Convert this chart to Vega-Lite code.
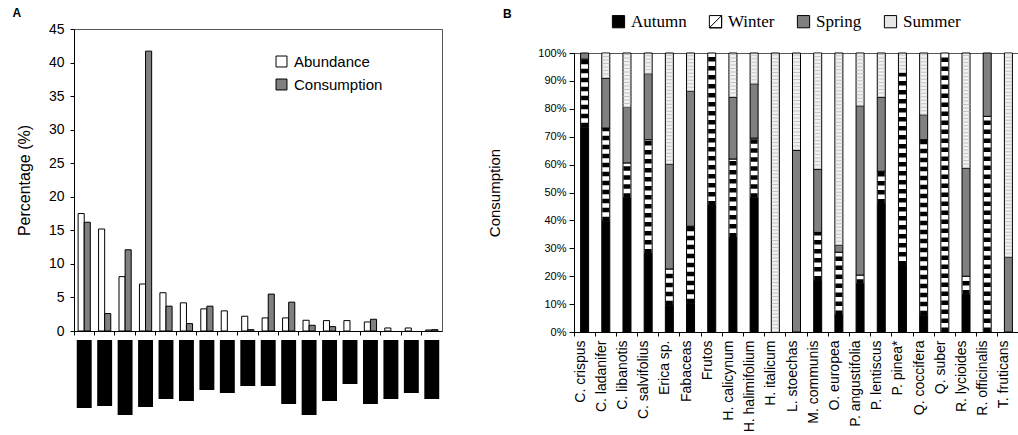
{
  "$schema": "https://vega.github.io/schema/vega-lite/v6.json",
  "background": "white",
  "padding": {"left": 11, "top": 6, "right": 0, "bottom": 0},
  "config": {
    "font": "Liberation Sans",
    "view": {"stroke": "#555555", "strokeWidth": 1},
    "axis": {"domainColor": "black", "tickColor": "black", "labelColor": "black", "titleColor": "black", "grid": false, "titleFontWeight": "normal", "domainWidth": 1, "tickWidth": 1},
    "legend": {"labelColor": "black"},
    "title": {"color": "black"}
  },
  "datasets": {
    "abund": [
      {"cat": "1", "series": "Abundance", "value": 17.5}, {"cat": "1", "series": "Consumption", "value": 16.2},
      {"cat": "2", "series": "Abundance", "value": 15.2}, {"cat": "2", "series": "Consumption", "value": 2.6},
      {"cat": "3", "series": "Abundance", "value": 8.1}, {"cat": "3", "series": "Consumption", "value": 12.1},
      {"cat": "4", "series": "Abundance", "value": 7.0}, {"cat": "4", "series": "Consumption", "value": 41.7},
      {"cat": "5", "series": "Abundance", "value": 5.7}, {"cat": "5", "series": "Consumption", "value": 3.7},
      {"cat": "6", "series": "Abundance", "value": 4.2}, {"cat": "6", "series": "Consumption", "value": 1.1},
      {"cat": "7", "series": "Abundance", "value": 3.3}, {"cat": "7", "series": "Consumption", "value": 3.7},
      {"cat": "8", "series": "Abundance", "value": 3.0},
      {"cat": "9", "series": "Abundance", "value": 2.2}, {"cat": "9", "series": "Consumption", "value": 0.2},
      {"cat": "10", "series": "Abundance", "value": 1.95}, {"cat": "10", "series": "Consumption", "value": 5.5},
      {"cat": "11", "series": "Abundance", "value": 1.95}, {"cat": "11", "series": "Consumption", "value": 4.3},
      {"cat": "12", "series": "Abundance", "value": 1.6}, {"cat": "12", "series": "Consumption", "value": 0.85},
      {"cat": "13", "series": "Abundance", "value": 1.55}, {"cat": "13", "series": "Consumption", "value": 0.65},
      {"cat": "14", "series": "Abundance", "value": 1.55},
      {"cat": "15", "series": "Abundance", "value": 1.35}, {"cat": "15", "series": "Consumption", "value": 1.75},
      {"cat": "16", "series": "Abundance", "value": 0.45},
      {"cat": "17", "series": "Abundance", "value": 0.45},
      {"cat": "18", "series": "Abundance", "value": 0.15}, {"cat": "18", "series": "Consumption", "value": 0.2}
    ],
    "redact": [
      {"cat": "1", "len": 68}, {"cat": "2", "len": 66}, {"cat": "3", "len": 75}, {"cat": "4", "len": 67},
      {"cat": "5", "len": 59}, {"cat": "6", "len": 61}, {"cat": "7", "len": 50}, {"cat": "8", "len": 53},
      {"cat": "9", "len": 46}, {"cat": "10", "len": 46}, {"cat": "11", "len": 64}, {"cat": "12", "len": 75},
      {"cat": "13", "len": 61}, {"cat": "14", "len": 44}, {"cat": "15", "len": 64}, {"cat": "16", "len": 59},
      {"cat": "17", "len": 53}, {"cat": "18", "len": 59}
    ],
    "season": [
      {"species": "C. crispus", "season": "Autumn", "ord": 1, "value": 73.4},
      {"species": "C. crispus", "season": "Winter", "ord": 2, "value": 24.4},
      {"species": "C. crispus", "season": "Spring", "ord": 3, "value": 2.2},
      {"species": "C. ladanifer", "season": "Autumn", "ord": 1, "value": 39.7},
      {"species": "C. ladanifer", "season": "Winter", "ord": 2, "value": 33.4},
      {"species": "C. ladanifer", "season": "Spring", "ord": 3, "value": 17.9},
      {"species": "C. ladanifer", "season": "Summer", "ord": 4, "value": 9.0},
      {"species": "C. libanotis", "season": "Autumn", "ord": 1, "value": 48.1},
      {"species": "C. libanotis", "season": "Winter", "ord": 2, "value": 12.5},
      {"species": "C. libanotis", "season": "Spring", "ord": 3, "value": 19.9},
      {"species": "C. libanotis", "season": "Summer", "ord": 4, "value": 19.5},
      {"species": "C. salvifolius", "season": "Autumn", "ord": 1, "value": 28.1},
      {"species": "C. salvifolius", "season": "Winter", "ord": 2, "value": 40.8},
      {"species": "C. salvifolius", "season": "Spring", "ord": 3, "value": 23.7},
      {"species": "C. salvifolius", "season": "Summer", "ord": 4, "value": 7.4},
      {"species": "Erica sp.", "season": "Autumn", "ord": 1, "value": 9.6},
      {"species": "Erica sp.", "season": "Winter", "ord": 2, "value": 13.0},
      {"species": "Erica sp.", "season": "Spring", "ord": 3, "value": 37.5},
      {"species": "Erica sp.", "season": "Summer", "ord": 4, "value": 39.9},
      {"species": "Fabaceas", "season": "Autumn", "ord": 1, "value": 10.3},
      {"species": "Fabaceas", "season": "Winter", "ord": 2, "value": 27.6},
      {"species": "Fabaceas", "season": "Spring", "ord": 3, "value": 48.4},
      {"species": "Fabaceas", "season": "Summer", "ord": 4, "value": 13.7},
      {"species": "Frutos", "season": "Autumn", "ord": 1, "value": 45.3},
      {"species": "Frutos", "season": "Winter", "ord": 2, "value": 54.7},
      {"species": "H. calicynum", "season": "Autumn", "ord": 1, "value": 33.9},
      {"species": "H. calicynum", "season": "Winter", "ord": 2, "value": 28.1},
      {"species": "H. calicynum", "season": "Spring", "ord": 3, "value": 22.2},
      {"species": "H. calicynum", "season": "Summer", "ord": 4, "value": 15.8},
      {"species": "H. halimifolium", "season": "Autumn", "ord": 1, "value": 48.1},
      {"species": "H. halimifolium", "season": "Winter", "ord": 2, "value": 21.4},
      {"species": "H. halimifolium", "season": "Spring", "ord": 3, "value": 19.5},
      {"species": "H. halimifolium", "season": "Summer", "ord": 4, "value": 11.0},
      {"species": "H. italicum", "season": "Summer", "ord": 4, "value": 100},
      {"species": "L. stoechas", "season": "Spring", "ord": 3, "value": 65.2},
      {"species": "L. stoechas", "season": "Summer", "ord": 4, "value": 34.8},
      {"species": "M. communis", "season": "Autumn", "ord": 1, "value": 18.5},
      {"species": "M. communis", "season": "Winter", "ord": 2, "value": 17.2},
      {"species": "M. communis", "season": "Spring", "ord": 3, "value": 22.7},
      {"species": "M. communis", "season": "Summer", "ord": 4, "value": 41.6},
      {"species": "O. europea", "season": "Autumn", "ord": 1, "value": 6.1},
      {"species": "O. europea", "season": "Winter", "ord": 2, "value": 22.5},
      {"species": "O. europea", "season": "Spring", "ord": 3, "value": 2.5},
      {"species": "O. europea", "season": "Summer", "ord": 4, "value": 68.9},
      {"species": "P. angustifolia", "season": "Autumn", "ord": 1, "value": 17.3},
      {"species": "P. angustifolia", "season": "Winter", "ord": 2, "value": 3.1},
      {"species": "P. angustifolia", "season": "Spring", "ord": 3, "value": 60.7},
      {"species": "P. angustifolia", "season": "Summer", "ord": 4, "value": 18.9},
      {"species": "P. lentiscus", "season": "Autumn", "ord": 1, "value": 46.1},
      {"species": "P. lentiscus", "season": "Winter", "ord": 2, "value": 11.5},
      {"species": "P. lentiscus", "season": "Spring", "ord": 3, "value": 26.6},
      {"species": "P. lentiscus", "season": "Summer", "ord": 4, "value": 15.8},
      {"species": "P. pinea*", "season": "Autumn", "ord": 1, "value": 23.8},
      {"species": "P. pinea*", "season": "Winter", "ord": 2, "value": 69.0},
      {"species": "P. pinea*", "season": "Summer", "ord": 4, "value": 7.2},
      {"species": "Q. coccifera", "season": "Autumn", "ord": 1, "value": 6.0},
      {"species": "Q. coccifera", "season": "Winter", "ord": 2, "value": 62.9},
      {"species": "Q. coccifera", "season": "Spring", "ord": 3, "value": 9.0},
      {"species": "Q. coccifera", "season": "Summer", "ord": 4, "value": 22.1},
      {"species": "Q. suber", "season": "Winter", "ord": 2, "value": 100},
      {"species": "R. lycioides", "season": "Autumn", "ord": 1, "value": 13.4},
      {"species": "R. lycioides", "season": "Winter", "ord": 2, "value": 6.6},
      {"species": "R. lycioides", "season": "Spring", "ord": 3, "value": 38.8},
      {"species": "R. lycioides", "season": "Summer", "ord": 4, "value": 41.2},
      {"species": "R. officinalis", "season": "Winter", "ord": 2, "value": 77.3},
      {"species": "R. officinalis", "season": "Spring", "ord": 3, "value": 22.7},
      {"species": "T. fruticans", "season": "Spring", "ord": 3, "value": 26.8},
      {"species": "T. fruticans", "season": "Summer", "ord": 4, "value": 73.2}
    ]
  },
  "resolve": {"scale": {"fill": "independent"}, "legend": {"fill": "independent"}},
  "concat": [
    {
      "vconcat": [
        {
          "width": 368,
          "height": 302,
          "title": {"text": "A", "anchor": "start", "fontSize": 12, "fontWeight": "bold", "offset": 2, "dx": -4},
          "data": {"name": "abund"},
          "mark": {"type": "bar", "stroke": "black", "strokeWidth": 1},
          "encoding": {
            "x": {"field": "cat", "type": "ordinal", "sort": null, "scale": {"paddingInner": 0, "paddingOuter": 0}, "axis": {"labels": false, "title": null, "bandPosition": 0, "tickSize": 4}},
            "xOffset": {"field": "series", "type": "nominal", "sort": ["Abundance", "Consumption"], "scale": {"paddingInner": 0, "paddingOuter": 0.675}},
            "y": {"field": "value", "type": "quantitative", "scale": {"domain": [0, 45], "nice": false}, "axis": {"values": [0, 5, 10, 15, 20, 25, 30, 35, 40, 45], "title": "Percentage (%)", "titleFontSize": 16, "labelFontSize": 14, "tickSize": 4, "labelPadding": 6, "titlePadding": 16}},
            "fill": {"field": "series", "type": "nominal", "scale": {"domain": ["Abundance", "Consumption"], "range": ["white", "#808080"]}, "legend": {"orient": "none", "legendX": 200, "legendY": 25, "direction": "vertical", "title": null, "symbolType": "square", "symbolSize": 120, "symbolStrokeColor": "black", "symbolStrokeWidth": 1, "labelFontSize": 15, "rowPadding": 7, "labelOffset": 5, "padding": 0}}
          }
        },
        {
          "width": 368,
          "height": 80,
          "view": {"stroke": null},
          "data": {"name": "redact"},
          "mark": {"type": "bar", "color": "black"},
          "encoding": {
            "x": {"field": "cat", "type": "ordinal", "sort": null, "scale": {"paddingInner": 0.27, "paddingOuter": 0.135}, "axis": null},
            "y": {"field": "len", "type": "quantitative", "scale": {"domain": [0, 80], "reverse": true, "nice": false}, "axis": null}
          }
        }
      ],
      "spacing": 1
    },
    {
      "vconcat": [
        {
          "width": 445,
          "height": 1,
          "view": {"stroke": null},
          "title": {"text": "B", "anchor": "start", "fontSize": 12, "fontWeight": "bold", "offset": -8, "dx": -71},
          "data": {"name": "season"},
          "transform": [{"filter": "datum.value < 0"}],
          "mark": {"type": "square", "size": 0},
          "encoding": {
            "fill": {
              "field": "season", "type": "nominal",
              "scale": {"domain": ["Autumn", "Winter", "Spring", "Summer"], "range": ["black", "white", "#808080", "#e6e6e6"]},
              "legend": {"orient": "none", "legendX": 36, "legendY": -16, "direction": "horizontal", "title": null, "symbolType": "square", "symbolSize": 150, "symbolStrokeColor": "black", "symbolStrokeWidth": 1, "symbolOpacity": 1, "labelFont": "Liberation Serif", "labelFontSize": 17, "labelOffset": 4, "columnPadding": 20, "padding": 0,
                "encode": {"symbols": {"update": {
                  "stroke": {"value": "black"},
                  "strokeWidth": {"value": 1},
                  "shape": [
                    {"test": "datum.value === 'Winter'", "value": "M-1,-1L1,-1L1,1L-1,1Z M1,-1L-1,1L1,1Z"},
                    {"value": "square"}
                  ],
                  "fill": [
                    {"test": "datum.value === 'Winter'", "value": "black"},
                    {"test": "datum.value === 'Autumn'", "value": "black"},
                    {"test": "datum.value === 'Spring'", "value": "#808080"},
                    {"value": "#e6e6e6"}
                  ]
                }}}
              }
            }
          }
        },
        {
          "width": 445,
          "height": 279,
          "data": {"name": "season"},
          "transform": [{"stack": "value", "groupby": ["species"], "sort": [{"field": "ord", "order": "ascending"}], "offset": "normalize", "as": ["y0", "y1"]}],
          "encoding": {
            "x": {"field": "species", "type": "nominal", "sort": ["C. crispus", "C. ladanifer", "C. libanotis", "C. salvifolius", "Erica sp.", "Fabaceas", "Frutos", "H. calicynum", "H. halimifolium", "H. italicum", "L. stoechas", "M. communis", "O. europea", "P. angustifolia", "P. lentiscus", "P. pinea*", "Q. coccifera", "Q. suber", "R. lycioides", "R. officinalis", "T. fruticans"], "scale": {"paddingInner": 0, "paddingOuter": 0}, "axis": {"title": null, "labelAngle": 270, "labelFontSize": 14, "bandPosition": 0, "labelOffset": -4, "tickSize": 4, "labelPadding": 4}},
            "y": {"field": "y0", "type": "quantitative", "scale": {"domain": [0, 1], "nice": false}, "axis": {"values": [0, 0.1, 0.2, 0.3, 0.4, 0.5, 0.6, 0.7, 0.8, 0.9, 1], "format": ".0%", "title": "Consumption", "titleFontSize": 15, "labelFontSize": 11, "tickSize": 5, "labelPadding": 3, "titlePadding": 35}},
            "y2": {"field": "y1"}
          },
          "layer": [
            {
              "mark": {"type": "bar", "width": 8, "stroke": "black", "strokeWidth": 1},
              "encoding": {
                "fill": {
                  "field": "season", "type": "nominal",
                  "scale": {"domain": ["Autumn", "Winter", "Spring", "Summer"], "range": ["black", "white", "#808080", "#f0f0f0"]},
                  "legend": null
                }
              }
            },
            {
              "transform": [{"filter": "datum.season == 'Winter'"}],
              "mark": {"type": "rule", "strokeWidth": 7, "strokeDash": [4.5, 4.5], "color": "black", "strokeCap": "butt"}
            },
            {
              "transform": [{"filter": "datum.season == 'Summer'"}],
              "mark": {"type": "rule", "strokeWidth": 7, "strokeDash": [1, 2.5], "color": "#c4c4c4", "strokeCap": "butt"}
            }
          ]
        }
      ],
      "spacing": 16,
      "resolve": {"scale": {"fill": "independent"}, "legend": {"fill": "independent"}}
    }
  ],
  "columns": 2,
  "align": "none",
  "spacing": 44
}
